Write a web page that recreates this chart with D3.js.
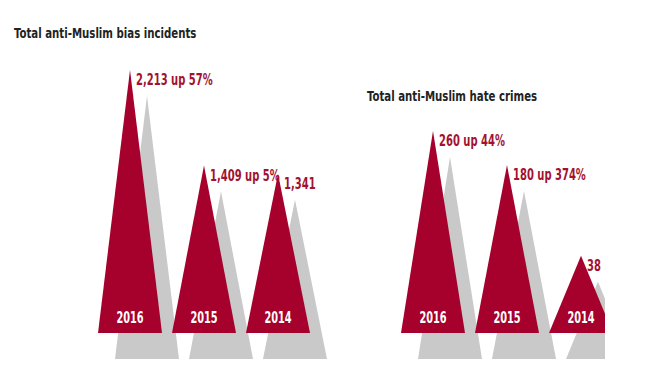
<!DOCTYPE html>
<html>
<head>
<meta charset="utf-8">
<script src="https://cdn.jsdelivr.net/npm/d3@7"></script>
<style>
  html, body { margin: 0; padding: 0; background: #fff; }
  svg { display: block; }
  text { font-family: "Liberation Sans Narrow", "DejaVu Sans Condensed", "Arial Narrow", sans-serif; font-weight: bold; }
</style>
</head>
<body>
<script>
// ---- data ----
const categories = ["2016", "2015", "2014"];
const incidents = [2213, 1409, 1341];
const incidentLabels = ["2,213 up 57%", "1,409 up 5%", "1,341"];
const crimes = [260, 180, 38];
const crimeLabels = ["260 up 44%", "180 up 374%", "38"];
const titles = ["Total anti-Muslim bias incidents", "Total anti-Muslim hate crimes"];

const W = 647, H = 387;
const RED = "#a6002c", GREY = "#c9c9c9", LABEL = "#a3112f";
const shadowDx = 17, shadowDy = 26;
const baseY = 333;

const svg = d3.select("body").append("svg").attr("width", W).attr("height", H);

svg.append("defs").append("clipPath").attr("id", "clipR")
  .append("rect").attr("x", 340).attr("y", 0).attr("width", 265).attr("height", H);

// condensed text helper: horizontal squeeze to mimic a condensed bold face
function place(sel, fx, fy, sx) {
  return sel.attr("transform", (d, i) => `translate(${fx(d, i)},${fy(d, i)}) scale(${sx},1)`);
}

function panel(g, values, labels, xRange, yScale, title, titleX, titleY) {
  const x = d3.scaleBand().domain(categories).range(xRange).paddingInner(10 / 74).paddingOuter(0);
  const data = categories.map((c, i) => ({ c, v: values[i], label: labels[i] }));
  const tri = d => {
    const x0 = x(d.c), x1 = x0 + x.bandwidth(), xm = x0 + x.bandwidth() / 2;
    return `M${x0},${yScale(0)}L${xm},${yScale(d.v)}L${x1},${yScale(0)}Z`;
  };
  g.selectAll("path.shadow").data(data).join("path")
    .attr("class", "shadow").attr("d", tri).attr("fill", GREY)
    .attr("transform", `translate(${shadowDx},${shadowDy})`);
  g.selectAll("path.tri").data(data).join("path")
    .attr("class", "tri").attr("d", tri).attr("fill", RED);
  place(g.selectAll("text.year").data(data).join("text")
    .attr("class", "year")
    .attr("text-anchor", "middle")
    .attr("fill", "#fff").attr("font-size", 16)
    .text(d => d.c),
    d => x(d.c) + x.bandwidth() / 2, () => baseY - 10, 0.68);
  place(g.selectAll("text.val").data(data).join("text")
    .attr("class", "val")
    .attr("fill", LABEL).attr("font-size", 15)
    .text(d => d.label),
    d => x(d.c) + x.bandwidth() / 2 + 6, d => yScale(d.v) + 15, 0.74);
  place(svg.append("text").datum(title)
    .attr("fill", "#222").attr("font-size", 14).text(title),
    () => titleX, () => titleY, 0.81);
}

const yLeft = d3.scaleLinear().domain([0, d3.max(incidents)]).range([baseY, 70]);
const yRight = d3.scaleSqrt().domain([0, d3.max(crimes)]).range([baseY, 131]);

panel(svg.append("g"), incidents, incidentLabels, [98, 310], yLeft, titles[0], 14, 38);
panel(svg.append("g").attr("clip-path", "url(#clipR)"), crimes, crimeLabels, [401, 613], yRight, titles[1], 367, 101);
</script>
</body>
</html>
